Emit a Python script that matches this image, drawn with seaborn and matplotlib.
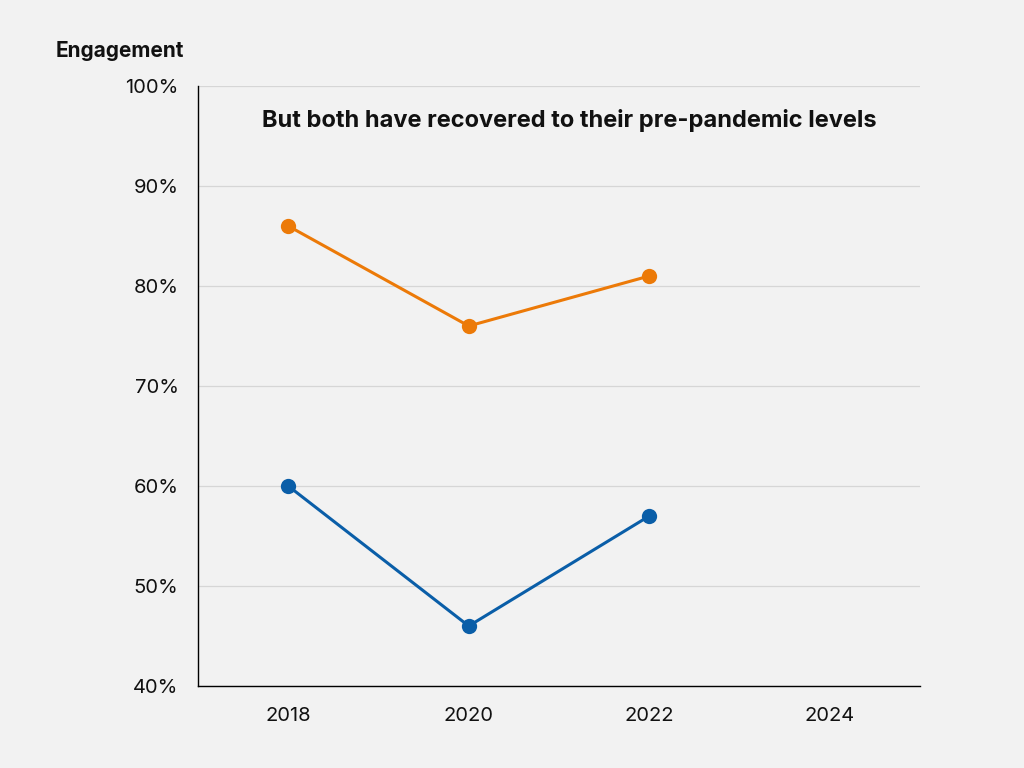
import pandas as pd
import seaborn as sns
import matplotlib.pyplot as plt
from matplotlib.ticker import PercentFormatter

years = [2018, 2020, 2022]
orange_vals = [86, 76, 81]
blue_vals = [60, 46, 57]
x_ticks = [2018, 2020, 2022, 2024]
y_ticks = [40, 50, 60, 70, 80, 90, 100]

df = pd.DataFrame({
    "year": years * 2,
    "engagement": orange_vals + blue_vals,
    "series": ["orange"] * len(years) + ["blue"] * len(years),
})

sns.set_theme(style="white")
plt.rcParams['font.family'] = ['Inter', 'DejaVu Sans']

bg = "#f2f2f2"
fig = plt.figure(figsize=(10.24, 7.68), dpi=100, facecolor=bg)
ax = fig.add_axes([198/1024, 1 - 686/768, (920-198)/1024, (686-86)/768])
ax.set_facecolor(bg)

sns.lineplot(data=df, x="year", y="engagement", hue="series",
             palette={"orange": "#ec7a08", "blue": "#0a5ea8"},
             marker="o", markersize=11, markeredgewidth=0, linewidth=2.2,
             legend=False, ax=ax, zorder=3)

ax.set_xlim(2017, 2025)
ax.set_ylim(40, 100)
ax.set_xticks(x_ticks)
ax.set_yticks(y_ticks)
ax.yaxis.set_major_formatter(PercentFormatter(decimals=0))
ax.grid(axis="y", color="#d6d6d6", linewidth=0.9)
ax.set_axisbelow(True)
for s in ["top", "right"]:
    ax.spines[s].set_visible(False)
for s in ["left", "bottom"]:
    ax.spines[s].set_color("black")
    ax.spines[s].set_linewidth(1.0)
ax.tick_params(axis="both", length=0, labelsize=14.5, colors="#111111")
ax.tick_params(axis="y", pad=14)
ax.tick_params(axis="x", pad=15)
ax.set_xlabel("")
ax.set_ylabel("")

fig.text(56/1024, 1 - 51/768, "Engagement", fontsize=15, fontweight="bold",
         ha="left", va="center", color="#111111")
ax.text(0.514, 0.943, "But both have recovered to their pre-pandemic levels",
        transform=ax.transAxes, fontsize=17, fontweight="bold",
        ha="center", va="center", color="#111111")

fig.savefig("out.png", dpi=100, facecolor=bg)
